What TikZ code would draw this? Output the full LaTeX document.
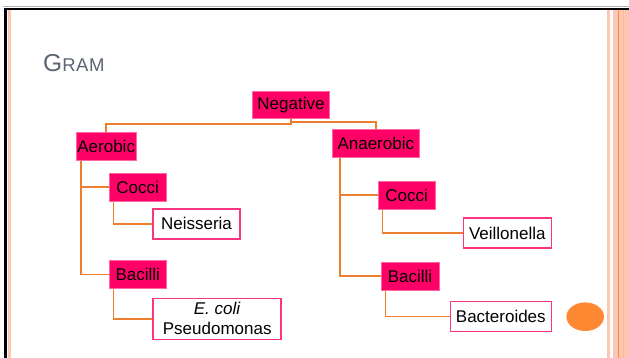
\documentclass[tikz,border=0pt]{standalone}
\usepackage{fontspec}
\setmainfont{Liberation Sans}
\definecolor{hotpink}{HTML}{FF0066}
\definecolor{rimpink}{HTML}{FF3380}
\definecolor{stripe}{HTML}{FFC7B3}
\definecolor{linkorange}{HTML}{ED7D31}
\definecolor{dotorange}{HTML}{FF8833}
\definecolor{titlegray}{HTML}{5C6573}
\pgfdeclarelayer{background}
\pgfsetlayers{background,main}
\tikzset{
  group/.style={fill=hotpink, draw=hotpink!60!white, line width=0.8pt, inner sep=0pt,
    font=\fontsize{17}{20}\selectfont},
  genus/.style={fill=white, draw=rimpink, line width=1.6pt, inner sep=0pt, align=center,
    font=\fontsize{17}{20}\selectfont},
  link/.style={draw=linkorange, line width=1.6pt}
}
\begin{document}
\begin{tikzpicture}[x=1pt, y=-1pt]
		\useasboundingbox (0,0) rectangle (629,358);
		
		\begin{pgfonlayer}{background}
		\fill [white] (0,0) rectangle (629,358);
		\draw [gray!60, line width=1pt] (3,7) -- (629,7);
		\draw [black, line width=2.2pt] (5.5,9) -- (629,9);
		\draw [black, line width=3pt] (5.5,8) -- (5.5,358);
		\draw [stripe, line width=3pt] (9.5,10) -- (9.5,358);
		\draw [stripe, line width=3pt] (608.5,10) -- (608.5,358);
		\fill [stripe] (613,10) rectangle (629,358);
		\draw [linkorange!80!stripe, line width=1.3pt] (618.5,10) -- (618.5,358);
		\draw [stripe!80!orange, line width=0.5pt] (623,10) -- (623,358);
		\end{pgfonlayer}
		
		\node [anchor=base west, text=titlegray, inner sep=0pt] (title) at (43,71.5)
		  {\fontsize{24.5}{26}\selectfont G\addfontfeature{LetterSpace=3}\fontsize{18.5}{20}\selectfont RAM};
		
		\node [group, minimum width=77pt, minimum height=27pt] (neg) at (291,105.3) {Negative};
		\node [group, minimum width=60pt, minimum height=28pt] (aer) at (106.2,146.3) {Aerobic};
		\node [group, minimum width=87pt, minimum height=28pt] (anaer) at (375.8,143.3) {Anaerobic};
		
		\node [group, minimum width=57pt, minimum height=28pt] (coccia) at (137.7,187.3) {Cocci};
		\node [group, minimum width=57pt, minimum height=28pt] (bacia) at (137.7,274.3) {Bacilli};
		\node [genus, minimum width=87pt, minimum height=30pt] (neis) at (196.5,223.9) {Neisseria};
		\node [genus, minimum width=128pt, minimum height=41pt] (ecoli) at (217.2,318.8) {\textit{E. coli}\\Pseudomonas};
		
		\node [group, minimum width=57pt, minimum height=28pt] (coccib) at (406.7,195.2) {Cocci};
		\node [group, minimum width=58pt, minimum height=28pt] (bacib) at (410,276) {Bacilli};
		\node [genus, minimum width=88pt, minimum height=30pt] (veil) at (507.3,233) {Veillonella};
		\node [genus, minimum width=101pt, minimum height=30pt] (bact) at (500.8,316.4) {Bacteroides};
		
		\fill [dotorange] (585.2,316.7) ellipse (18.8 and 14.3);
		
		\begin{pgfonlayer}{background}
		\draw [link] (neg.south) -- ++(0,5) -| (aer.north);
		\draw [link] (neg.south) -- ++(0,3) -| (anaer.north);
		
		\draw [link] ([xshift=5pt]aer.south west) |- (coccia.west);
		\draw [link] ([xshift=5pt]aer.south west) |- (bacia.west);
		\draw [link] ([xshift=4.7pt]coccia.south west) |- (neis.west);
		\draw [link] ([xshift=4.7pt]bacia.south west) |- (ecoli.west);
		
		\draw [link] ([xshift=8pt]anaer.south west) |- (coccib.west);
		\draw [link] ([xshift=8pt]anaer.south west) |- (bacib.west);
		\draw [link] ([xshift=4.7pt]coccib.south west) |- (veil.west);
		\draw [link] ([xshift=4.7pt]bacib.south west) |- (bact.west);
		\end{pgfonlayer}
		
		\end{tikzpicture}
\end{document}
